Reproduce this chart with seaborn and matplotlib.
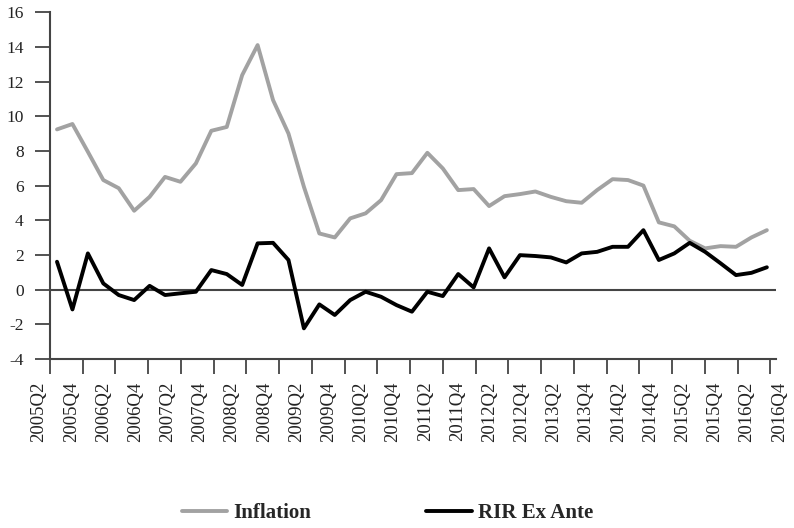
import numpy as np
import pandas as pd
import seaborn as sns
import matplotlib.pyplot as plt

# quarterly data 2005Q2 - 2016Q4
inflation = [9.24, 9.55, 7.95, 6.32, 5.85, 4.55, 5.35, 6.5, 6.22, 7.28,
             9.16, 9.38, 12.37, 14.1, 10.93, 9.0, 5.93, 3.24, 3.01, 4.11,
             4.4, 5.16, 6.66, 6.72, 7.89, 6.99, 5.74, 5.8, 4.82, 5.39,
             5.51, 5.66, 5.35, 5.1, 5.01, 5.74, 6.37, 6.32, 6.0, 3.88,
             3.65, 2.82, 2.38, 2.51, 2.47, 3.01, 3.43]
rir = [1.61, -1.14, 2.09, 0.36, -0.31, -0.6, 0.22, -0.31, -0.21, -0.12,
       1.13, 0.9, 0.27, 2.67, 2.7, 1.71, -2.23, -0.85, -1.46, -0.6,
       -0.12, -0.41, -0.89, -1.27, -0.12, -0.37, 0.9, 0.13, 2.38, 0.71,
       1.99, 1.94, 1.86, 1.57, 2.09, 2.18, 2.47, 2.47, 3.43, 1.71,
       2.09, 2.7, 2.18, 1.52, 0.84, 0.97, 1.29]
tick_labels = ["2005Q2", "2005Q4", "2006Q2", "2006Q4", "2007Q2", "2007Q4",
               "2008Q2", "2008Q4", "2009Q2", "2009Q4", "2010Q2", "2010Q4",
               "2011Q2", "2011Q4", "2012Q2", "2012Q4", "2013Q2", "2013Q4",
               "2014Q2", "2014Q4", "2015Q2", "2015Q4", "2016Q2", "2016Q4"]

idx = np.arange(len(inflation))
df = pd.DataFrame({
    "idx": np.concatenate([idx, idx]),
    "value": inflation + rir,
    "series": ["Inflation"] * len(inflation) + ["RIR Ex Ante"] * len(rir),
})

sns.set_style("ticks")
plt.rcParams["font.family"] = ["Liberation Serif", "DejaVu Serif"]
plt.rcParams["axes.unicode_minus"] = False

fig = plt.figure(figsize=(7.94, 5.28), dpi=100)
ax = fig.add_axes([30 / 794, 0.320, 760 / 794, 0.657])

sns.lineplot(data=df, x="idx", y="value", hue="series",
             palette={"Inflation": "#a2a2a2", "RIR Ex Ante": "#000000"},
             linewidth=2.8, ax=ax)

x0, x1 = -0.454, 46.6
ax.set_xlim(-1.75, 47.5)
ax.set_ylim(-4, 16)
ax.hlines(0, x0, x1, color="#444444", linewidth=1.5, zorder=1)

for s in ["top", "right"]:
    ax.spines[s].set_visible(False)
ax.spines["left"].set_position(("data", x0))
ax.spines["bottom"].set_bounds(x0, x1)
for s in ["left", "bottom"]:
    ax.spines[s].set_color("#444444")
    ax.spines[s].set_linewidth(1.5)

ax.set_yticks(np.arange(-4, 17, 2))
ax.tick_params(axis="y", left=True, direction="out", length=11, width=1.3,
               color="#444444", pad=8, labelsize=12.5, labelcolor="#222222")

ax.set_xticks(np.linspace(x0, 46.23, 23))
ax.set_xticklabels([])
ax.set_xticks(np.linspace(-1.17, 46.8, 24), minor=True)
ax.set_xticklabels(tick_labels, minor=True, rotation=90)
ax.tick_params(axis="x", which="major", bottom=True, direction="out",
               length=11, width=1.3, color="#444444")
ax.tick_params(axis="x", which="minor", bottom=True, length=0, pad=16,
               labelsize=13.5, labelcolor="#222222")

ax.set_xlabel("")
ax.set_ylabel("")

handles, labels = ax.get_legend_handles_labels()
ax.get_legend().remove()
fig.legend(handles, labels, loc="center", bbox_to_anchor=(0.488, 0.028),
           ncol=2, frameon=False, handlelength=2.2, handletextpad=0.3,
           columnspacing=5.5, prop={"weight": "bold", "size": 15})

fig.savefig("out.png", dpi=100)
